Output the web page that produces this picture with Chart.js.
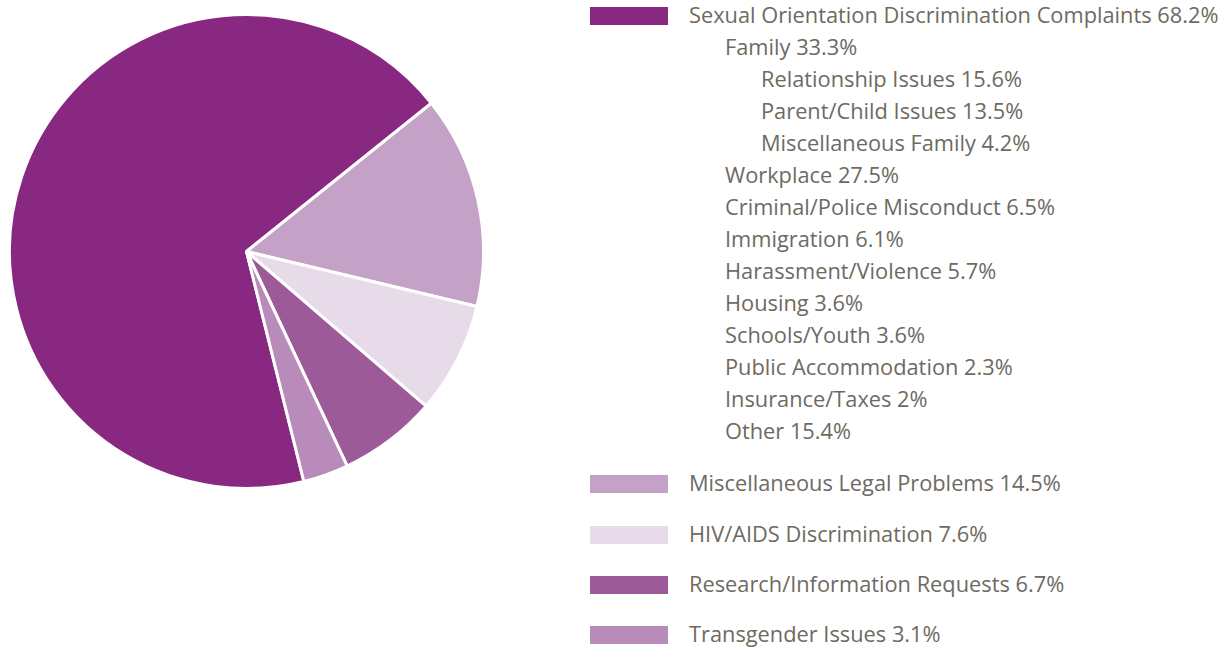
<!DOCTYPE html>
<html>
<head>
<meta charset="utf-8">
<script src="https://cdn.jsdelivr.net/npm/chart.js@4.4.0/dist/chart.umd.min.js"></script>
<style>
    body { margin: 0; background: #fff; width: 1221px; height: 647px; overflow: hidden; position: relative; }
    #pieWrap { position: absolute; left: 8px; top: 13px; width: 477px; height: 477px; }
    #legend { position: absolute; left: 590px; top: 0; font-family: "Open Sans", sans-serif; font-size: 21.8px; color: #6e6a62; }
    .row { position: absolute; white-space: nowrap; height: 32px; line-height: 32px; }
    .sw { position: absolute; left: 0; width: 78px; height: 18px; }
    .txt { position: absolute; top: -1px; }
</style>
</head>
<body>
<div id="pieWrap"><canvas id="pieChart"></canvas></div>
<div id="legend"></div>
<script>
const categories = ['Sexual Orientation Discrimination Complaints', 'Miscellaneous Legal Problems', 'HIV/AIDS Discrimination', 'Research/Information Requests', 'Transgender Issues'];
const shares = [68.2, 14.5, 7.6, 6.7, 3.1];
const sliceColors = ['#892880', '#c4a1c6', '#e7dbea', '#9d5a98', '#b98bba'];

// breakdown of the first category: label, share, indent level
const subLabels = ['Family', 'Relationship Issues', 'Parent/Child Issues', 'Miscellaneous Family', 'Workplace', 'Criminal/Police Misconduct', 'Immigration', 'Harassment/Violence', 'Housing', 'Schools/Youth', 'Public Accommodation', 'Insurance/Taxes', 'Other'];
const subShares = ['33.3', '15.6', '13.5', '4.2', '27.5', '6.5', '6.1', '5.7', '3.6', '3.6', '2.3', '2', '15.4'];
const subLevels = [1, 2, 2, 2, 1, 1, 1, 1, 1, 1, 1, 1, 1];

new Chart(document.getElementById('pieChart').getContext('2d'), {
    type: 'pie',
    data: {
        labels: categories,
        datasets: [{
            data: shares,
            backgroundColor: sliceColors,
            borderColor: '#ffffff',
            borderWidth: 3
        }]
    },
    options: {
        responsive: true,
        maintainAspectRatio: false,
        animation: false,
        rotation: 166,
        layout: { padding: 0 },
        plugins: {
            legend: { display: false },
            tooltip: { enabled: false }
        }
    }
});

// html legend
const legend = document.getElementById('legend');
function addRow(top, left, text, color) {
    const row = document.createElement('div');
    row.className = 'row';
    row.style.top = top + 'px';
    row.style.left = '0px';
    if (color) {
        const sw = document.createElement('div');
        sw.className = 'sw';
        sw.style.background = color;
        sw.style.top = '7px';
        row.appendChild(sw);
    }
    const t = document.createElement('div');
    t.className = 'txt';
    t.style.left = left + 'px';
    t.textContent = text;
    row.appendChild(t);
    legend.appendChild(row);
}
addRow(0, 99, categories[0] + ' ' + shares[0] + '%', sliceColors[0]);
subLabels.forEach(function (lbl, i) {
    addRow(32 * (i + 1), 99 + 36 * subLevels[i], lbl + ' ' + subShares[i] + '%', null);
});
const bottomTops = [468, 519, 569, 619];
for (let i = 1; i < categories.length; i++) {
    addRow(bottomTops[i - 1], 99, categories[i] + ' ' + shares[i] + '%', sliceColors[i]);
}
</script>
</body>
</html>
